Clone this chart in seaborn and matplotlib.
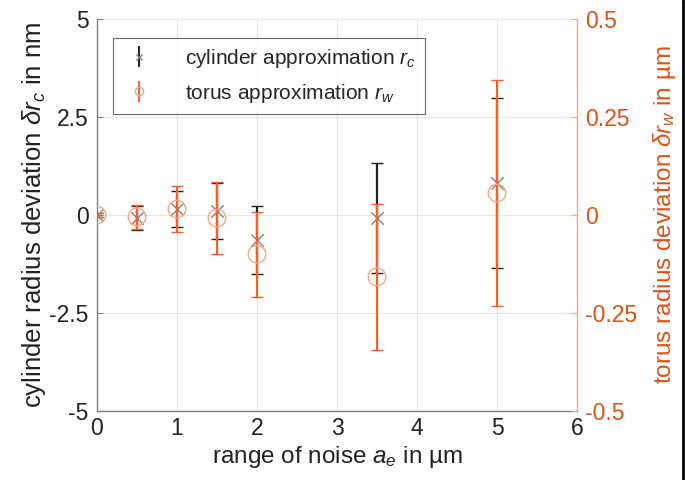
import matplotlib
matplotlib.use("Agg")
import matplotlib.pyplot as plt
from matplotlib.lines import Line2D
import pandas as pd
import seaborn as sns

# Noise range a_e in µm
noise = [0, 0.5, 1, 1.5, 2, 3.5, 5]
# Cylinder radius deviation (nm) and its spread
cyl_dev = [0.0, -0.08, 0.15, 0.10, -0.64, -0.08, 0.82]
cyl_err = [0.05, 0.30, 0.46, 0.72, 0.87, 1.41, 2.17]
# Torus radius deviation (µm) and its spread
tor_dev = [0.0, -0.005, 0.015, -0.008, -0.10, -0.158, 0.056]
tor_err = [0.004, 0.031, 0.059, 0.092, 0.108, 0.186, 0.288]

left_ticks = [-5, -2.5, 0, 2.5, 5]
left_labels = ["-5", "-2.5", "0", "2.5", "5"]
right_ticks = [-0.5, -0.25, 0, 0.25, 0.5]
right_labels = ["-0.5", "-0.25", "0", "0.25", "0.5"]
x_ticks = [0, 1, 2, 3, 4, 5, 6]

sns.set_theme(style="white")
plt.rcParams["font.family"] = ["Liberation Sans", "DejaVu Sans"]
plt.rcParams["mathtext.fontset"] = "custom"
plt.rcParams["mathtext.rm"] = "Liberation Sans"
plt.rcParams["mathtext.it"] = "Liberation Sans:italic"

ORANGE_TXT = "#D95319"
ORANGE_BAR = "#F4602A"
ORANGE_MK = "#F2A88A"
GRAY = "#808080"
TXT = "#222222"

df = pd.DataFrame({"noise": noise, "cyl": cyl_dev, "cyl_err": cyl_err,
                   "tor": tor_dev, "tor_err": tor_err})

fig = plt.figure(figsize=(6.85, 4.8), dpi=100)
ax = fig.add_axes([0.1416, 0.1437, 0.7007, 0.8167])
ax2 = ax.twinx()

# cylinder error bars (left axis)
ax.errorbar(df["noise"], df["cyl"], yerr=df["cyl_err"], fmt="none",
            ecolor=TXT, elinewidth=1.6, capsize=4, capthick=1.0, zorder=3)
sns.scatterplot(data=df, x="noise", y="cyl", ax=ax, marker="x", s=80,
                color=GRAY, linewidth=1.0, zorder=4, legend=False)

# torus error bars (right axis)
ax2.errorbar(df["noise"], df["tor"], yerr=df["tor_err"], fmt="none",
             ecolor=ORANGE_BAR, elinewidth=1.6, capsize=4, capthick=1.0, zorder=3)
sns.scatterplot(data=df, x="noise", y="tor", ax=ax2, marker="o", s=160,
                facecolor="none", edgecolor=ORANGE_MK, linewidth=1.0,
                zorder=4, legend=False)

ax.set_xlim(0, 6)
ax.set_ylim(-5, 5)
ax2.set_ylim(-0.5, 0.5)
ax.set_xticks(x_ticks)
ax.set_xticklabels([str(t) for t in x_ticks])
ax.set_yticks(left_ticks)
ax.set_yticklabels(left_labels)
ax2.set_yticks(right_ticks)
ax2.set_yticklabels(right_labels)

ax.grid(True, color="#e6e6e6", linewidth=0.8)
ax.set_axisbelow(True)

for a in (ax, ax2):
    a.spines["top"].set_visible(False)
ax.spines["right"].set_visible(False)
ax.spines["left"].set_color(GRAY)
ax.spines["bottom"].set_color(GRAY)
ax.spines["left"].set_linewidth(1.0)
ax.spines["bottom"].set_linewidth(1.0)
ax2.spines["left"].set_visible(False)
ax2.spines["bottom"].set_visible(False)
ax2.spines["right"].set_color(ORANGE_MK)
ax2.spines["right"].set_linewidth(1.0)

ax.tick_params(axis="both", direction="in", length=4, width=0.8,
               colors=GRAY, labelcolor=TXT, labelsize=16.5)
ax.tick_params(axis="x", pad=4)
ax.tick_params(axis="y", pad=6)
ax2.tick_params(axis="y", direction="in", length=4, width=0.8, pad=6,
                colors=ORANGE_MK, labelcolor=ORANGE_TXT, labelsize=16.5)

ax.set_xlabel(r"range of noise $a_e$ in µm", fontsize=17.5, color=TXT, labelpad=3)
ax.set_ylabel(r"cylinder radius deviation $\delta r_c$ in nm", fontsize=18.5,
              color=TXT, labelpad=1)
ax2.set_ylabel(r"torus radius deviation $\delta r_w$ in µm", fontsize=17.5,
               color=ORANGE_TXT, labelpad=10)

h1 = ax.errorbar([], [], yerr=[], fmt="x", color=TXT, mec=GRAY, ms=5,
                 elinewidth=1.4, capsize=4, capthick=1.0)
h2 = ax.errorbar([], [], yerr=[], fmt="o", color=ORANGE_BAR, mec=ORANGE_MK,
                 mfc="none", ms=6, elinewidth=1.4, capsize=4, capthick=1.0)
leg = ax2.legend([h1, h2], [r"cylinder approximation $r_c$",
                            r"torus approximation $r_w$"],
                 loc="upper left", bbox_to_anchor=(0.033, 0.952),
                 borderaxespad=0, fontsize=15,
                 frameon=True, fancybox=False, edgecolor="#444444",
                 handlelength=1.6, handletextpad=1.4, borderpad=0.45,
                 labelspacing=0.55)
leg.get_frame().set_linewidth(0.8)
leg.set_zorder(10)

fig.add_artist(Line2D([0.9965, 0.9965], [0, 1], color="black", linewidth=2.0,
                      transform=fig.transFigure))

fig.savefig("out.png", dpi=100, facecolor="white")
